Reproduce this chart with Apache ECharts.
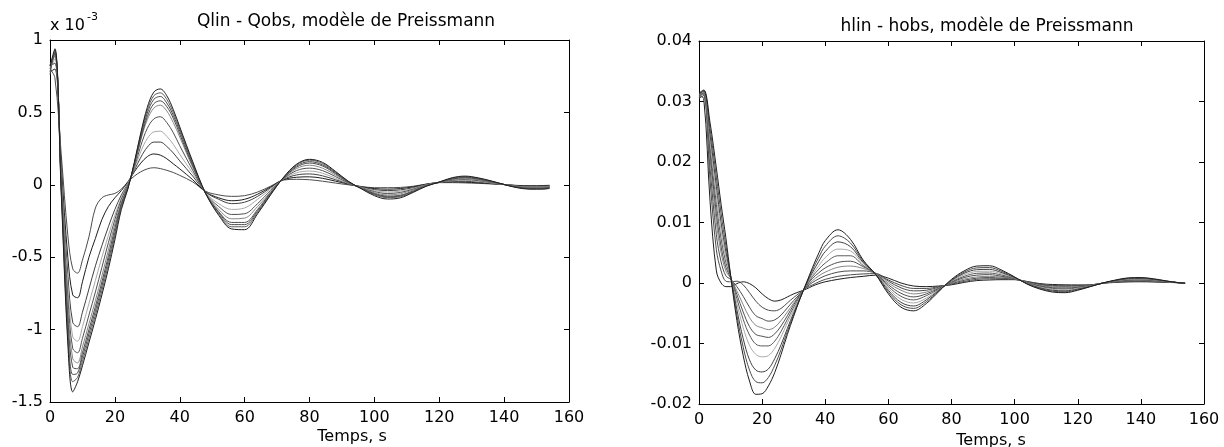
<!DOCTYPE html>
<html><head><meta charset="utf-8">
<script src="https://cdn.jsdelivr.net/npm/echarts@6/dist/echarts.min.js"></script>
<style>html,body{margin:0;padding:0;background:#fff}#c{width:1224px;height:447px}</style>
</head><body><div id="c"></div>
<script>
// shared time axis (s)
const time = [0, 1.5, 3.5, 5.5, 7, 8.5, 10, 12, 14, 16, 18, 20, 22, 24, 26, 28, 30, 32, 34, 36, 38, 40, 44, 48, 52, 56, 60, 64, 68, 72, 76, 80, 84, 88, 92, 96, 100, 104, 108, 112, 116, 120, 124, 128, 132, 136, 140, 144, 148, 152, 154];

// tick labels
const xTicks = [0, 20, 40, 60, 80, 100, 120, 140, 160];
const qTicks = [-1.5, -1, -0.5, 0, 0.5, 1];
const hTicks = [-0.02, -0.01, 0, 0.01, 0.02, 0.03, 0.04];

// Qlin - Qobs (x 10^-3)
const qA = [0.80, 0.74, 0.20, -0.35, -0.58, -0.61, -0.52, -0.36, -0.16, -0.09, -0.07, -0.06, -0.03, 0.02, 0.06, 0.09, 0.11, 0.118, 0.112, 0.10, 0.085, 0.065, 0.02, -0.045, -0.07, -0.08, -0.075, -0.05, -0.01, 0.033, 0.038, 0.035, 0.025, 0.012, 0.0, -0.012, -0.02, -0.02, -0.018, -0.01, 0.005, 0.015, 0.015, 0.013, 0.01, 0.006, 0.002, -0.004, -0.006, -0.005, -0.003];
const qB = [0.78, 0.80, 0.12, -0.50, -0.76, -0.78, -0.67, -0.50, -0.37, -0.24, -0.15, -0.09, -0.04, 0.02, 0.09, 0.15, 0.195, 0.213, 0.205, 0.18, 0.145, 0.11, 0.035, -0.05, -0.09, -0.11, -0.10, -0.065, -0.015, 0.035, 0.052, 0.055, 0.045, 0.025, 0.005, -0.014, -0.026, -0.03, -0.026, -0.014, 0.004, 0.016, 0.02, 0.018, 0.014, 0.008, 0.002, -0.006, -0.009, -0.008, -0.005];
const qC = [0.82, 0.84, 0.08, -0.62, -0.95, -0.98, -0.88, -0.72, -0.56, -0.42, -0.29, -0.17, -0.07, 0.01, 0.10, 0.19, 0.26, 0.295, 0.295, 0.265, 0.22, 0.165, 0.06, -0.05, -0.10, -0.13, -0.12, -0.08, -0.02, 0.038, 0.068, 0.075, 0.062, 0.035, 0.008, -0.016, -0.033, -0.04, -0.035, -0.02, 0.002, 0.016, 0.024, 0.024, 0.019, 0.01, 0.002, -0.008, -0.012, -0.011, -0.007];
const qD = [0.80, 0.87, 0.05, -0.70, -1.05, -1.08, -0.98, -0.82, -0.66, -0.50, -0.35, -0.21, -0.09, 0.01, 0.11, 0.23, 0.32, 0.365, 0.37, 0.335, 0.28, 0.21, 0.08, -0.055, -0.13, -0.17, -0.16, -0.10, -0.03, 0.04, 0.083, 0.095, 0.08, 0.045, 0.01, -0.018, -0.04, -0.05, -0.044, -0.025, 0.0, 0.017, 0.028, 0.03, 0.024, 0.013, 0.002, -0.01, -0.015, -0.014, -0.009];
const qE = [0.83, 0.89, 0.02, -0.78, -1.13, -1.16, -1.06, -0.90, -0.74, -0.57, -0.40, -0.24, -0.10, 0.0, 0.12, 0.27, 0.39, 0.455, 0.47, 0.43, 0.36, 0.27, 0.10, -0.06, -0.15, -0.205, -0.20, -0.13, -0.04, 0.042, 0.098, 0.115, 0.098, 0.057, 0.013, -0.02, -0.047, -0.06, -0.053, -0.03, -0.002, 0.017, 0.032, 0.036, 0.029, 0.016, 0.002, -0.012, -0.018, -0.017, -0.012];
const qF = [0.80, 0.90, 0.0, -0.85, -1.20, -1.23, -1.12, -0.96, -0.80, -0.63, -0.45, -0.27, -0.12, -0.01, 0.13, 0.31, 0.45, 0.53, 0.55, 0.51, 0.43, 0.33, 0.12, -0.06, -0.17, -0.235, -0.23, -0.15, -0.05, 0.044, 0.112, 0.135, 0.115, 0.068, 0.016, -0.022, -0.054, -0.07, -0.062, -0.035, -0.004, 0.018, 0.036, 0.042, 0.034, 0.018, 0.002, -0.014, -0.021, -0.02, -0.015];
const qG = [0.82, 0.91, -0.02, -0.92, -1.26, -1.27, -1.16, -1.00, -0.84, -0.67, -0.49, -0.30, -0.13, -0.015, 0.14, 0.32, 0.47, 0.56, 0.58, 0.54, 0.46, 0.35, 0.13, -0.06, -0.185, -0.26, -0.26, -0.17, -0.055, 0.046, 0.122, 0.15, 0.13, 0.077, 0.018, -0.024, -0.06, -0.078, -0.072, -0.042, -0.006, 0.018, 0.04, 0.048, 0.039, 0.021, 0.002, -0.016, -0.024, -0.023, -0.018];
const qH = [0.78, 0.92, -0.04, -0.98, -1.31, -1.30, -1.19, -1.03, -0.87, -0.70, -0.52, -0.33, -0.14, -0.02, 0.145, 0.335, 0.495, 0.59, 0.61, 0.565, 0.48, 0.37, 0.14, -0.06, -0.19, -0.275, -0.275, -0.18, -0.06, 0.048, 0.13, 0.16, 0.138, 0.083, 0.02, -0.025, -0.064, -0.083, -0.077, -0.045, -0.007, 0.018, 0.043, 0.052, 0.042, 0.023, 0.002, -0.017, -0.026, -0.025, -0.02];
const qI = [0.76, 0.93, -0.06, -1.05, -1.36, -1.33, -1.22, -1.06, -0.90, -0.73, -0.55, -0.35, -0.15, -0.025, 0.15, 0.35, 0.515, 0.615, 0.635, 0.59, 0.50, 0.385, 0.15, -0.06, -0.20, -0.29, -0.29, -0.19, -0.065, 0.05, 0.138, 0.17, 0.147, 0.088, 0.022, -0.026, -0.068, -0.088, -0.082, -0.048, -0.008, 0.019, 0.046, 0.056, 0.045, 0.025, 0.002, -0.018, -0.028, -0.027, -0.022];
const qJ = [0.82, 0.94, -0.08, -1.10, -1.43, -1.36, -1.25, -1.09, -0.93, -0.76, -0.58, -0.38, -0.17, -0.03, 0.155, 0.36, 0.535, 0.64, 0.662, 0.615, 0.52, 0.40, 0.16, -0.06, -0.21, -0.305, -0.31, -0.20, -0.07, 0.052, 0.142, 0.176, 0.155, 0.093, 0.024, -0.028, -0.075, -0.098, -0.09, -0.052, -0.01, 0.019, 0.049, 0.06, 0.048, 0.027, 0.002, -0.02, -0.03, -0.03, -0.025];

// hlin - hobs
const hA = [0.0310, 0.0305, 0.0135, 0.0020, 0.0000, -0.0006, -0.0006, -0.0001, 0.0002, -0.0001, -0.0008, -0.0018, -0.0026, -0.0030, -0.0028, -0.0023, -0.0018, -0.0014, -0.0010, -0.0005, -0.0001, 0.0002, 0.0006, 0.0009, 0.0011, 0.0013, 0.0008, 0.0000, -0.0005, -0.0006, -0.0005, -0.0003, 0.0001, 0.0004, 0.0005, 0.00055, 0.00055, 0.00025, -0.0001, -0.00025, -0.0003, -0.00032, -0.0003, -0.00005, 0.0001, 0.00018, 0.0002, 0.00017, 0.0001, 0.00004, 0.0000];
const hB = [0.0305, 0.0310, 0.0170, 0.0055, 0.0020, 0.0003, 0.0002, 0.0003, -0.0003, -0.0016, -0.0030, -0.0040, -0.0045, -0.0046, -0.0042, -0.0033, -0.0024, -0.0016, -0.0008, -0.0003, 0.0002, 0.0006, 0.0011, 0.00135, 0.0015, 0.00155, 0.0005, -0.0004, -0.0009, -0.0009, -0.0006, -0.0002, 0.00025, 0.0006, 0.0007, 0.00068, 0.0006, 0.0002, -0.0002, -0.0004, -0.00045, -0.00042, -0.00035, 0.0000, 0.00016, 0.00025, 0.00026, 0.00022, 0.00014, 0.00005, 0.0000];
const hC = [0.0313, 0.0312, 0.0190, 0.0080, 0.0035, 0.0012, 0.0006, -0.0006, -0.0022, -0.0040, -0.0054, -0.0059, -0.0063, -0.0061, -0.0053, -0.0041, -0.0029, -0.0018, -0.0007, 0.0001, 0.0007, 0.0012, 0.0018, 0.0020, 0.0020, 0.0016, 0.0003, -0.0008, -0.0013, -0.0012, -0.0007, -0.0001, 0.00045, 0.0008, 0.0009, 0.0008, 0.00065, 0.00015, -0.0003, -0.0005, -0.00055, -0.0005, -0.00038, 0.0000, 0.0002, 0.00032, 0.00034, 0.00028, 0.00017, 0.00005, 0.0000];
const hD = [0.0308, 0.0313, 0.0205, 0.0100, 0.0050, 0.0020, 0.0008, -0.0013, -0.0036, -0.0057, -0.0070, -0.0074, -0.0077, -0.0073, -0.0062, -0.0048, -0.0033, -0.0019, -0.0006, 0.0004, 0.0012, 0.0018, 0.0026, 0.0028, 0.0024, 0.0016, 0.0000, -0.0012, -0.0018, -0.0015, -0.0008, 0.0000, 0.00065, 0.0010, 0.0011, 0.00095, 0.0007, 0.0001, -0.0004, -0.00065, -0.0007, -0.0006, -0.00042, 0.0000, 0.00024, 0.0004, 0.00042, 0.00034, 0.0002, 0.00005, 0.0000];
const hE = [0.0312, 0.0314, 0.0215, 0.0115, 0.0060, 0.0026, 0.0009, -0.0019, -0.0048, -0.0072, -0.0085, -0.0088, -0.0090, -0.0084, -0.0071, -0.0054, -0.0036, -0.0020, -0.0005, 0.0008, 0.0017, 0.0025, 0.0034, 0.0036, 0.0027, 0.00155, -0.0003, -0.0017, -0.0023, -0.0018, -0.0009, 0.0001, 0.0009, 0.0013, 0.00138, 0.0011, 0.00075, 0.00005, -0.0005, -0.00078, -0.00085, -0.0007, -0.00045, 0.0000, 0.00028, 0.00047, 0.0005, 0.0004, 0.00022, 0.00005, 0.0000];
const hF = [0.0306, 0.0315, 0.0225, 0.0130, 0.0073, 0.0034, 0.0010, -0.0026, -0.0060, -0.0086, -0.0101, -0.0104, -0.0104, -0.0096, -0.0080, -0.0060, -0.0040, -0.0022, -0.0004, 0.0011, 0.0023, 0.0033, 0.0045, 0.0045, 0.0029, 0.0015, -0.0006, -0.0022, -0.0028, -0.0021, -0.0010, 0.0002, 0.0011, 0.0016, 0.00165, 0.0013, 0.0008, 0.0000, -0.0006, -0.0009, -0.0010, -0.0008, -0.0005, 0.0000, 0.00032, 0.00055, 0.00058, 0.00046, 0.00024, 0.00005, -0.00001];
const hG = [0.0310, 0.0316, 0.0235, 0.0145, 0.0086, 0.0042, 0.0011, -0.0034, -0.0074, -0.0103, -0.0118, -0.0122, -0.0120, -0.0108, -0.0089, -0.0066, -0.0044, -0.0023, -0.0003, 0.0014, 0.0029, 0.0042, 0.0056, 0.0053, 0.0032, 0.0015, -0.0009, -0.0027, -0.0033, -0.0025, -0.0011, 0.0003, 0.00135, 0.0019, 0.00195, 0.0015, 0.00085, -0.00005, -0.0007, -0.00105, -0.00115, -0.0009, -0.0005, 0.0000, 0.00036, 0.00062, 0.00066, 0.00052, 0.00027, 0.00005, -0.00002];
const hH = [0.0313, 0.0317, 0.0245, 0.0160, 0.0100, 0.0052, 0.0012, -0.0044, -0.0092, -0.0127, -0.0144, -0.0147, -0.0142, -0.0125, -0.0102, -0.0075, -0.0049, -0.0025, -0.0002, 0.0018, 0.0036, 0.0052, 0.0068, 0.0060, 0.0034, 0.00145, -0.0012, -0.0032, -0.0038, -0.0028, -0.0012, 0.0004, 0.0016, 0.0022, 0.00225, 0.0017, 0.0009, -0.0001, -0.0008, -0.0012, -0.0013, -0.0010, -0.00055, 0.0000, 0.0004, 0.0007, 0.00074, 0.00058, 0.0003, 0.00005, -0.00003];
const hI = [0.0309, 0.0318, 0.0255, 0.0175, 0.0115, 0.0062, 0.0013, -0.0053, -0.0106, -0.0144, -0.0163, -0.0165, -0.0156, -0.0136, -0.0110, -0.0080, -0.0052, -0.0026, -0.0001, 0.0022, 0.0043, 0.0061, 0.0078, 0.0066, 0.0036, 0.0014, -0.0015, -0.0036, -0.0042, -0.0031, -0.0013, 0.0005, 0.0018, 0.0025, 0.00255, 0.0019, 0.00095, -0.00015, -0.0009, -0.00135, -0.00145, -0.0011, -0.00055, 0.0000, 0.00045, 0.00077, 0.00082, 0.00064, 0.00032, 0.00005, -0.00004];
const hJ = [0.0314, 0.0319, 0.0265, 0.0190, 0.0130, 0.0075, 0.0013, -0.0062, -0.0120, -0.0162, -0.0184, -0.0183, -0.0170, -0.0148, -0.0118, -0.0085, -0.0055, -0.0026, 0.0000, 0.0026, 0.0050, 0.0070, 0.0088, 0.0072, 0.0038, 0.0014, -0.0018, -0.0040, -0.0046, -0.0034, -0.0014, 0.0006, 0.0020, 0.0028, 0.00285, 0.0021, 0.0010, -0.0002, -0.0010, -0.0015, -0.0016, -0.0012, -0.0006, 0.0000, 0.0005, 0.00085, 0.0009, 0.0007, 0.00035, 0.00005, -0.00005];

const qCurves = [qA, qB, qC, qD, qE, qF, qG, qH, qI, qJ];
const hCurves = [hA, hB, hC, hD, hE, hF, hG, hH, hI, hJ];
const qColors = ['#4c4c4c', '#1d1d1d', '#404040', '#a9a9a9', '#4f4f4f', '#868686', '#4c4c4c', '#4b4b4b', '#5a5a5a', '#1d1d1d'];
const hColors = ['#1d1d1d', '#4b4b4b', '#4c4c4c', '#868686', '#4f4f4f', '#5a5a5a', '#a9a9a9', '#404040', '#4b4b4b', '#1d1d1d'];

const FONT = 'DejaVu Sans';
const chart = echarts.init(document.getElementById('c'), null, {renderer: 'canvas'});

function axisPair(kind, gridIndex, ticks, position, labels) {
  const a = {
    type: 'value', gridIndex: gridIndex, position: position,
    min: ticks[0], max: ticks[ticks.length - 1], interval: ticks[1] - ticks[0],
    splitLine: {show: false},
    axisLine: {show: true, onZero: false, lineStyle: {color: '#000', width: 1}},
    axisTick: {show: true, inside: true, length: 5, lineStyle: {color: '#000', width: 1}},
    axisLabel: {show: labels, color: '#000', fontFamily: FONT, fontSize: 16,
      margin: kind === 'x' ? 8 : 7, showMinLabel: true, showMaxLabel: true, hideOverlap: false},
    silent: true
  };
  return a;
}

const xAxes = [
  axisPair('x', 0, xTicks, 'bottom', true), axisPair('x', 0, xTicks, 'top', false),
  axisPair('x', 1, xTicks, 'bottom', true), axisPair('x', 1, xTicks, 'top', false)
];
const yAxes = [
  axisPair('y', 0, qTicks, 'left', true), axisPair('y', 0, qTicks, 'right', false),
  axisPair('y', 1, hTicks, 'left', true), axisPair('y', 1, hTicks, 'right', false)
];

const series = [];
qCurves.forEach((vals, i) => series.push({
  type: 'line', xAxisIndex: 0, yAxisIndex: 0, name: 'Q' + (i + 1),
  data: time.map((t, j) => [t, vals[j]]), showSymbol: false, smooth: 0.35,
  lineStyle: {width: 1, color: qColors[i]}, silent: true, animation: false
}));
hCurves.forEach((vals, i) => series.push({
  type: 'line', xAxisIndex: 2, yAxisIndex: 2, name: 'h' + (i + 1),
  data: time.map((t, j) => [t, vals[j]]), showSymbol: false, smooth: 0.35,
  lineStyle: {width: 1, color: hColors[i]}, silent: true, animation: false
}));

function txt(text, x, y, size, align) {
  return {type: 'text', x: x, y: y, silent: true,
    style: {text: text, font: size + 'px "' + FONT + '"', fill: '#000', align: align || 'center', verticalAlign: 'middle'}};
}

chart.setOption({
  animation: false,
  backgroundColor: '#fff',
  textStyle: {fontFamily: FONT},
  grid: [
    {left: 50, top: 40, width: 519, height: 362, containLabel: false, outerBoundsMode: 'none'},
    {left: 699, top: 41, width: 505, height: 363, containLabel: false, outerBoundsMode: 'none'}
  ],
  xAxis: xAxes,
  yAxis: yAxes,
  series: series,
  graphic: [
    txt('Qlin - Qobs, modèle de Preissmann', 346, 22, 17),
    txt('x 10', 50, 26, 16, 'left'),
    txt('-3', 87, 17, 11, 'left'),
    txt('Temps, s', 352, 437, 16),
    txt('hlin - hobs, modèle de Preissmann', 987, 27, 17),
    txt('Temps, s', 991, 441, 16)
  ]
});
</script>
</body></html>
